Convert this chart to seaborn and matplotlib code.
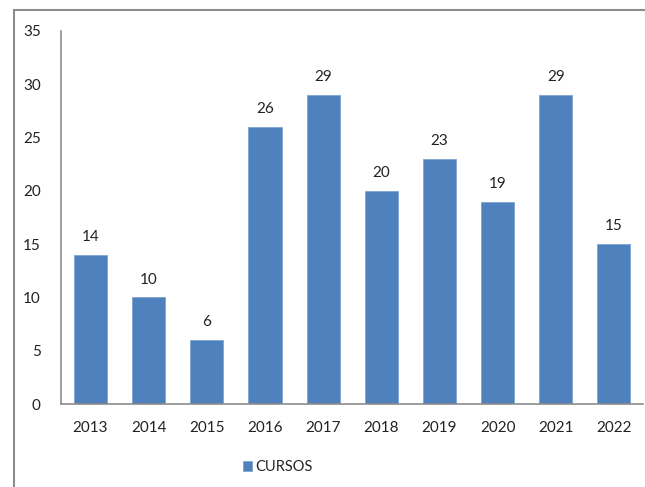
import pandas as pd
import matplotlib
matplotlib.use('Agg')
import matplotlib.pyplot as plt
import seaborn as sns
from matplotlib.lines import Line2D

anos = ['2013', '2014', '2015', '2016', '2017', '2018', '2019', '2020', '2021', '2022']
cursos = [14, 10, 6, 26, 29, 20, 23, 19, 29, 15]

sns.set_style('white')
plt.rcParams['font.family'] = ['Lato', 'DejaVu Sans']

df = pd.DataFrame({'ano': anos, 'CURSOS': cursos})

fig = plt.figure(figsize=(6.45, 4.87), dpi=100)
ax = fig.add_axes([0.0953, 0.1704, 0.9016, 0.766])

sns.barplot(data=df, x='ano', y='CURSOS', color='#4F81BD', width=0.57,
            saturation=1, ax=ax, label='CURSOS', edgecolor='#7FA3D3', linewidth=0.6)

for i, v in enumerate(cursos):
    ax.text(i, v + 1.0, str(v), ha='center', va='bottom', fontsize=11, color='#222222')

ax.set_ylim(0, 35)
ax.set_yticks(range(0, 36, 5))
ax.set_xlim(-0.5, 9.5)
ax.set_xlabel('')
ax.set_ylabel('')
ax.tick_params(axis='both', length=0, labelsize=11, colors='#222222')
ax.tick_params(axis='y', pad=15)
ax.tick_params(axis='x', pad=12)
for s in ['top', 'right']:
    ax.spines[s].set_visible(False)
for s in ['left', 'bottom']:
    ax.spines[s].set_color('#8C8C8C')
    ax.spines[s].set_linewidth(1.2)

ax.legend(loc='center', bbox_to_anchor=(278 / 645, 1 - 467 / 487),
          bbox_transform=fig.transFigure, frameon=False, fontsize=10.5,
          handlelength=0.6, handleheight=0.7, handletextpad=0.25)

# outer chart frame (cropped)
fig.add_artist(Line2D([14 / 645, 14 / 645], [0, 1 - 10 / 487], color='#8C8C8C', lw=1.5))
fig.add_artist(Line2D([14 / 645, 1], [1 - 10 / 487, 1 - 10 / 487], color='#8C8C8C', lw=1.5))

plt.savefig('out.png', dpi=100)
